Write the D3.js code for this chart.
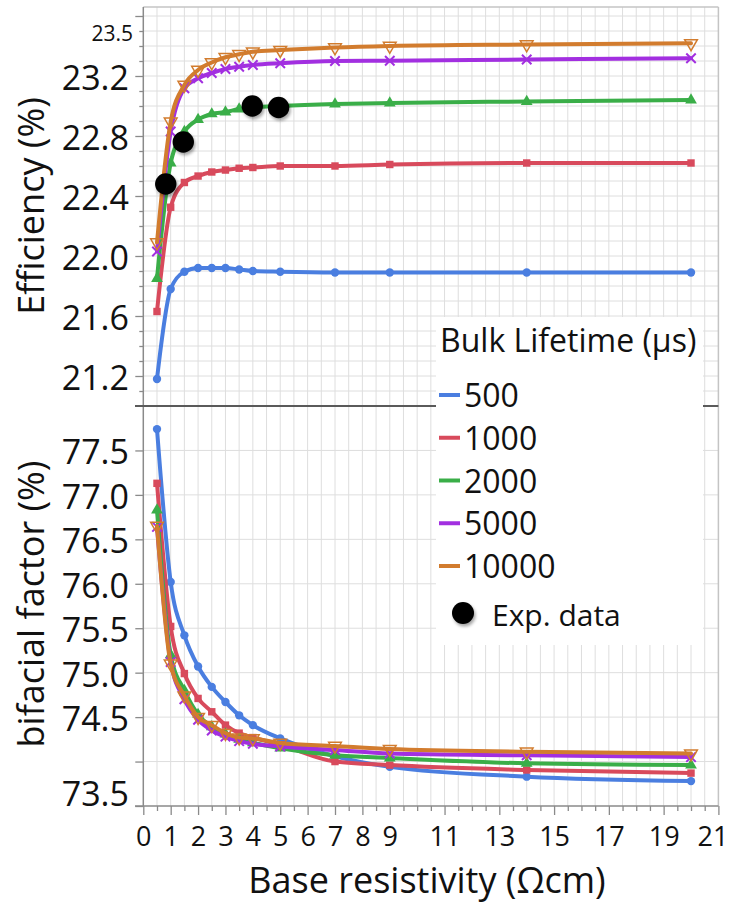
<!DOCTYPE html>
<html>
<head>
<meta charset="utf-8">
<script src="https://cdn.jsdelivr.net/npm/d3@7/dist/d3.min.js"></script>
<style>
  html, body { margin: 0; padding: 0; background: #fff; }
  svg { display: block; }
  text { font-family: "Open Sans", "Noto Sans", sans-serif; fill: #111; }
</style>
</head>
<body>
<svg id="chart" width="729" height="903"></svg>
<script>
// Base resistivity (Ωcm) of simulated cells
const resistivity = [0.5, 1, 1.5, 2, 2.5, 3, 3.5, 4, 5, 7, 9, 14, 20];

// Bulk lifetime series (µs)
const lifetimes = ["500", "1000", "2000", "5000", "10000"];
const seriesColors = ["#4a7ee0", "#d84a5c", "#3aae48", "#a22fe0", "#d27c2e"];
const seriesMarkers = ["circle", "square", "triangle", "times", "triangleDown"];

// Efficiency (%) per lifetime
const eff500   = [21.18, 21.78, 21.895, 21.92, 21.92, 21.92, 21.91, 21.90, 21.895, 21.89, 21.89, 21.89, 21.89];
const eff1000  = [21.63, 22.325, 22.49, 22.533, 22.56, 22.573, 22.585, 22.59, 22.60, 22.60, 22.61, 22.62, 22.62];
const eff2000  = [21.85, 22.62, 22.83, 22.91, 22.947, 22.96, 22.98, 22.99, 23.0, 23.013, 23.02, 23.03, 23.04];
const eff5000  = [22.03, 22.83, 23.118, 23.185, 23.22, 23.247, 23.262, 23.273, 23.285, 23.30, 23.302, 23.31, 23.318];
const eff10000 = [22.09, 22.895, 23.14, 23.24, 23.29, 23.325, 23.345, 23.362, 23.373, 23.39, 23.40, 23.41, 23.418];

// Bifacial factor (%) per lifetime
const bf500   = [77.74, 76.02, 75.42, 75.07, 74.84, 74.67, 74.52, 74.41, 74.26, 74.06, 73.94, 73.83, 73.78];
const bf1000  = [77.13, 75.52, 74.99, 74.71, 74.56, 74.41, 74.32, 74.27, 74.19, 74.00, 73.96, 73.905, 73.87];
const bf2000  = [76.83, 75.20, 74.80, 74.53, 74.39, 74.31, 74.25, 74.21, 74.15, 74.07, 74.04, 73.98, 73.96];
const bf5000  = [76.64, 75.12, 74.70, 74.47, 74.35, 74.28, 74.23, 74.20, 74.17, 74.13, 74.09, 74.07, 74.05];
const bf10000 = [76.65, 75.10, 74.74, 74.50, 74.41, 74.32, 74.27, 74.26, 74.21, 74.175, 74.14, 74.11, 74.09];

// Measured efficiency
const expResistivity = [0.82, 1.46, 3.98, 4.94];
const expEfficiency  = [22.48, 22.76, 23.0, 22.99];

// Tick labels
const xTickLabels = [0, 1, 2, 3, 4, 5, 6, 7, 8, 9, 11, 13, 15, 17, 19, 21];
const effTickLabels = [21.2, 21.6, 22.0, 22.4, 22.8, 23.2];
const effExtraLabel = 23.5;
const bfTickLabels = [73.5, 74.5, 75.0, 75.5, 76.0, 76.5, 77.0, 77.5];

const effSeries = [eff500, eff1000, eff2000, eff5000, eff10000];
const bfSeries = [bf500, bf1000, bf2000, bf5000, bf10000];

const svg = d3.select("#chart");
svg.append("rect").attr("width", 729).attr("height", 903).attr("fill", "#fff");

const defs = svg.append("defs");
const shadow = defs.append("filter").attr("id", "dotShadow")
  .attr("x", "-50%").attr("y", "-50%").attr("width", "200%").attr("height", "200%");
shadow.append("feDropShadow").attr("dx", 1.5).attr("dy", 2.5)
  .attr("stdDeviation", 1.6).attr("flood-color", "#000").attr("flood-opacity", 0.35);

const left = 143.3, right = 718.4;
const x = d3.scaleLinear().domain([0, 21]).range([left, right]);
const yEff = d3.scaleLinear().domain([21, 23.66]).range([406, 7]);
const yBf = d3.scaleLinear().domain([73.5, 78.0]).range([806, 406]);

const halfSteps = d3.range(1, 42).map(d => d / 2);
const effMinor = d3.range(211, 237).map(d => d / 10);
const effMajor = d3.range(212, 237, 4).map(d => d / 10);
const bfSteps = d3.range(148, 156).map(d => d / 2);   // 74.0 .. 77.5

const grid = svg.append("g").attr("stroke", "#dedede").attr("stroke-width", 1);
// vertical grid, both panels
grid.append("g").selectAll("line").data(halfSteps).join("line")
  .attr("x1", d => x(d)).attr("x2", d => x(d))
  .attr("y1", yEff.range()[1]).attr("y2", yBf.range()[0]);
// horizontal grid, efficiency panel (0.1 steps)
grid.append("g").selectAll("line").data(effMinor).join("line")
  .attr("x1", left).attr("x2", right)
  .attr("y1", d => yEff(d)).attr("y2", d => yEff(d));
// horizontal grid, bifacial panel (0.5 steps)
grid.append("g").selectAll("line").data(bfSteps).join("line")
  .attr("x1", left).attr("x2", right)
  .attr("y1", d => yBf(d)).attr("y2", d => yBf(d));

// Frame
svg.append("line").attr("x1", left).attr("x2", right).attr("y1", 7).attr("y2", 7)
  .attr("stroke", "#c4c4c4").attr("stroke-width", 1.5);
svg.append("line").attr("x1", right).attr("x2", right).attr("y1", 7).attr("y2", 806)
  .attr("stroke", "#c4c4c4").attr("stroke-width", 1.5);

// Left axes: short minor ticks, longer major ticks
const axes = svg.append("g").attr("transform", `translate(${left},0)`);
axes.append("g").call(d3.axisLeft(yEff).tickValues(effMinor.filter(d => !effMajor.some(m => Math.abs(m - d) < 1e-6))).tickSize(4).tickFormat(""));
axes.append("g").call(d3.axisLeft(yEff).tickValues(effMajor).tickSize(8).tickFormat(""));
axes.append("g").call(d3.axisLeft(yBf).tickValues([73.5].concat(bfSteps)).tickSize(8).tickFormat(""));
axes.selectAll(".domain").remove();
axes.selectAll(".tick line").attr("stroke", "#8a8a8a").attr("stroke-width", 1.3);
svg.append("line").attr("x1", left).attr("x2", left).attr("y1", 7).attr("y2", 806)
  .attr("stroke", "#8a8a8a").attr("stroke-width", 1.5);

// Bottom axis
const gx = svg.append("g").attr("transform", "translate(0,806)");
gx.append("g").call(d3.axisBottom(x).tickValues(halfSteps.filter(d => !xTickLabels.includes(d))).tickSize(5).tickFormat(""));
gx.append("g").call(d3.axisBottom(x).tickValues(xTickLabels).tickSize(9).tickFormat(d3.format("d")));
gx.selectAll(".domain").remove();
gx.selectAll(".tick line").attr("stroke", "#8a8a8a").attr("stroke-width", 1.3);
gx.selectAll(".tick text").attr("font-size", 27).attr("dy", 0).attr("y", 40)
  .attr("font-family", "Open Sans").attr("fill", "#111");
// keep the last label inside the page edge
gx.selectAll(".tick text").filter(d => d === 21)
  .attr("text-anchor", "end").attr("x", 728 - right);

// Panel separator and bottom axis line
svg.append("line").attr("x1", 135).attr("x2", right).attr("y1", 406).attr("y2", 406)
  .attr("stroke", "#5a5a5a").attr("stroke-width", 2);
svg.append("line").attr("x1", 135).attr("x2", right).attr("y1", 806).attr("y2", 806)
  .attr("stroke", "#8a8a8a").attr("stroke-width", 1.5);

// Y tick labels
svg.append("g").selectAll("text").data(effTickLabels).join("text")
  .attr("x", 129).attr("y", d => yEff(d) + 14)
  .attr("text-anchor", "end").attr("font-size", 34)
  .text(d => d3.format(".1f")(d));
svg.append("text").attr("x", 133).attr("y", yEff(effExtraLabel) + 10)
  .attr("text-anchor", "end").attr("font-size", 21).text(d3.format(".1f")(effExtraLabel));
svg.append("g").selectAll("text").data(bfTickLabels).join("text")
  .attr("x", 129).attr("y", d => (d === 73.5 ? yBf(d) - 14 : yBf(d)) + 14)
  .attr("text-anchor", "end").attr("font-size", 34)
  .text(d => d3.format(".1f")(d));

// Axis titles
svg.append("text").attr("transform", "translate(44,206) rotate(-90)")
  .attr("text-anchor", "middle").attr("font-size", 36).text("Efficiency (%)");
svg.append("text").attr("transform", "translate(44,604) rotate(-90)")
  .attr("text-anchor", "middle").attr("font-size", 36).text("bifacial factor (%)");
svg.append("text").attr("x", 427).attr("y", 893)
  .attr("text-anchor", "middle").attr("font-size", 36).text("Base resistivity (Ωcm)");

// Series
const line = (yScale) => d3.line().curve(d3.curveMonotoneX).x(d => x(d[0])).y(d => yScale(d[1]));
const symbolFor = {
  circle: d3.symbol(d3.symbolCircle, 55),
  square: d3.symbol(d3.symbolSquare, 55),
  triangle: d3.symbol(d3.symbolTriangle, 60),
  times: d3.symbol(d3.symbolTimes, 60),
  triangleDown: d3.symbol(d3.symbolTriangle, 70)
};

function drawPanel(seriesList, yScale) {
  const g = svg.append("g");
  seriesList.forEach((vals, i) => {
    const pts = resistivity.map((r, k) => [r, vals[k]]);
    const color = seriesColors[i];
    g.append("path").datum(pts).attr("d", line(yScale))
      .attr("fill", "none").attr("stroke", color).attr("stroke-width", 4)
      .attr("stroke-linejoin", "round").attr("stroke-linecap", "round");
    const m = seriesMarkers[i];
    g.append("g").selectAll("path").data(pts).join("path")
      .attr("d", symbolFor[m]())
      .attr("transform", d => `translate(${x(d[0])},${yScale(d[1])})` + (m === "triangleDown" ? " rotate(180)" : ""))
      .attr("fill", m === "triangleDown" || m === "times" ? "none" : color)
      .attr("stroke", color)
      .attr("stroke-width", m === "triangleDown" ? 1.5 : (m === "times" ? 2 : 0));
  });
}
drawPanel(effSeries, yEff);
drawPanel(bfSeries, yBf);

// Measured points
svg.append("g").selectAll("circle").data(expResistivity).join("circle")
  .attr("cx", d => x(d)).attr("cy", (d, i) => yEff(expEfficiency[i]))
  .attr("r", 10.7).attr("fill", "#000").attr("filter", "url(#dotShadow)");

// Legend
const lg = svg.append("g");
lg.append("rect").attr("x", 436).attr("y", 317).attr("width", 267).attr("height", 328).attr("fill", "#fff");
lg.append("text").attr("x", 440).attr("y", 352).attr("font-size", 32).text("Bulk Lifetime (µs)");
lifetimes.forEach((lab, i) => {
  const base = 407 + i * 42.75;
  lg.append("line").attr("x1", 439).attr("x2", 460).attr("y1", base - 12).attr("y2", base - 12)
    .attr("stroke", seriesColors[i]).attr("stroke-width", 4);
  lg.append("text").attr("x", 464).attr("y", base).attr("font-size", 32).text(lab);
});
lg.append("circle").attr("cx", 463).attr("cy", 613).attr("r", 11).attr("fill", "#000")
  .attr("filter", "url(#dotShadow)");
lg.append("text").attr("x", 492).attr("y", 626).attr("font-size", 30)
  .attr("font-family", "Liberation Sans, Arial, sans-serif").text("Exp. data");
</script>
</body>
</html>
